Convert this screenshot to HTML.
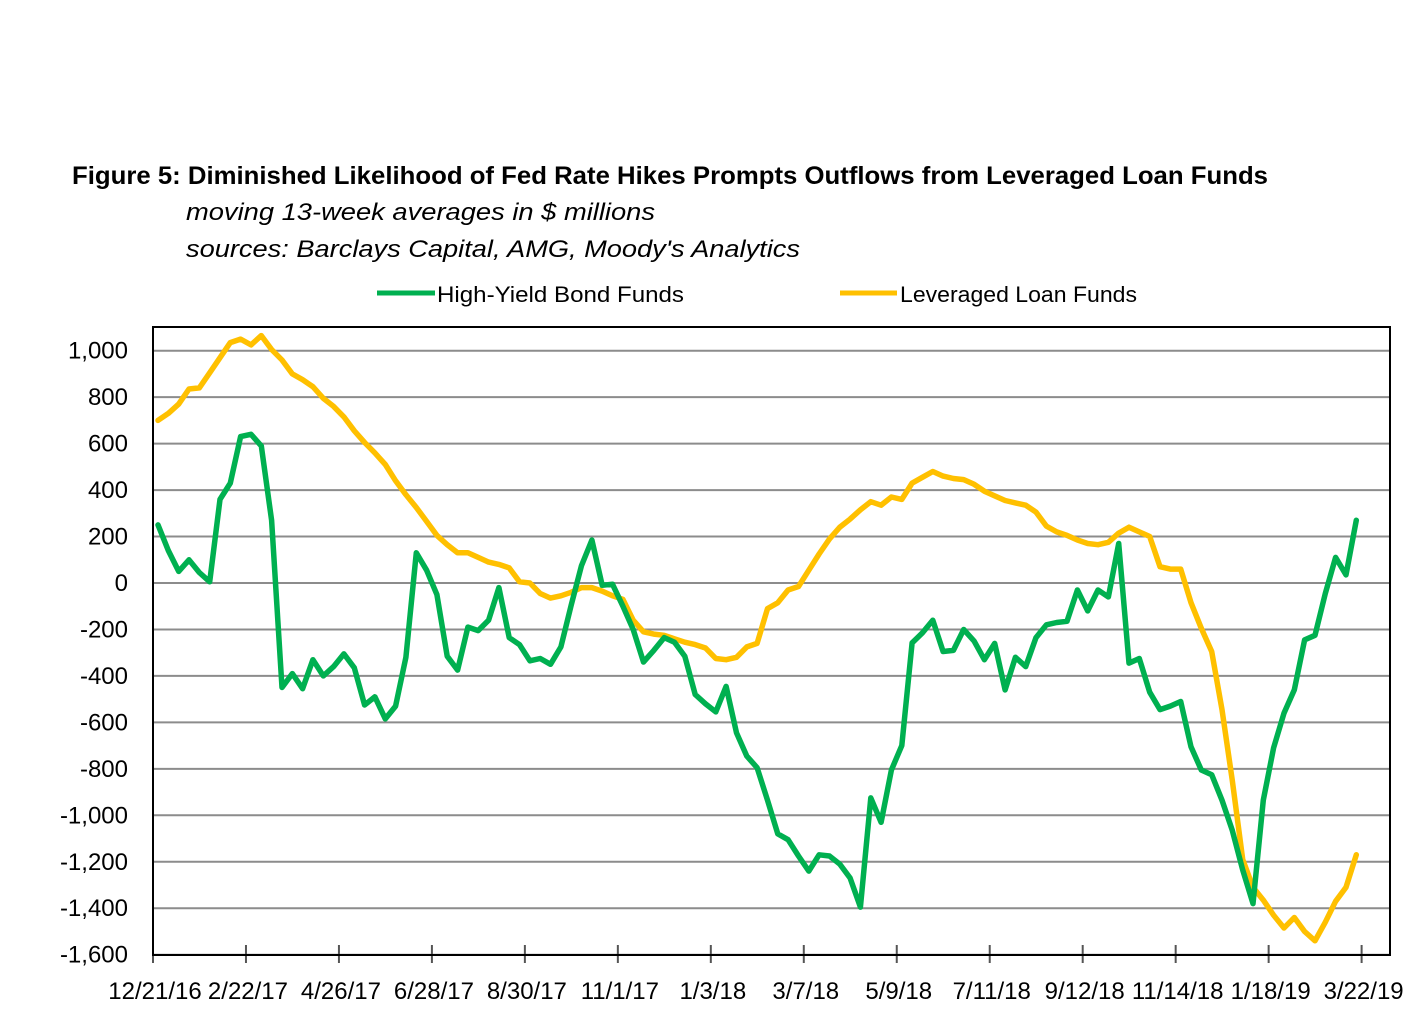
<!DOCTYPE html>
<html><head><meta charset="utf-8"><style>
html,body{margin:0;padding:0;background:#fff;}
svg{display:block;font-family:"Liberation Sans",sans-serif;}
</style></head><body>
<svg id="chart" width="1420" height="1024" viewBox="0 0 1420 1024">
<text x="72" y="184" font-size="25" font-weight="bold" textLength="1196" lengthAdjust="spacingAndGlyphs">Figure 5:  Diminished Likelihood of Fed Rate Hikes Prompts Outflows from Leveraged Loan Funds</text>
<text x="186" y="220" font-size="24" font-style="italic" textLength="469" lengthAdjust="spacingAndGlyphs">moving 13-week averages in $ millions</text>
<text x="186" y="257" font-size="24" font-style="italic" textLength="614" lengthAdjust="spacingAndGlyphs">sources: Barclays Capital, AMG, Moody's Analytics</text>
<g>
<line x1="377" y1="293" x2="435" y2="293" stroke="#00b050" stroke-width="5"/>
<text x="437" y="302" font-size="22" textLength="247" lengthAdjust="spacingAndGlyphs">High-Yield Bond Funds</text>
</g>
<g>
<line x1="840" y1="293" x2="897" y2="293" stroke="#ffc000" stroke-width="5"/>
<text x="900" y="302" font-size="22" textLength="237" lengthAdjust="spacingAndGlyphs">Leveraged Loan Funds</text>
</g>
<g id="grid"></g>
<g id="axes"></g>
<g id="series"></g>
<rect x="153" y="327" width="1237" height="628" fill="none" stroke="#000" stroke-width="2"/>
</svg>
<script>
const xLabels = ["12/21/16","2/22/17","4/26/17","6/28/17","8/30/17","11/1/17","1/3/18","3/7/18","5/9/18","7/11/18","9/12/18","11/14/18","1/18/19","3/22/19"];
const yTicks = [1000,800,600,400,200,0,-200,-400,-600,-800,-1000,-1200,-1400,-1600];
const highYield = [250,140,50,100,45,5,360,430,630,640,590,270,-450,-390,-455,-330,-400,-360,-305,-365,-525,-490,-585,-530,-320,130,55,-50,-315,-375,-190,-205,-160,-20,-235,-265,-335,-325,-350,-275,-95,75,185,-10,-5,-100,-200,-340,-290,-235,-255,-315,-480,-520,-555,-445,-645,-745,-795,-935,-1080,-1105,-1175,-1240,-1170,-1175,-1210,-1270,-1395,-925,-1030,-805,-700,-258,-215,-160,-295,-290,-200,-250,-330,-260,-460,-320,-360,-235,-180,-170,-165,-30,-120,-30,-60,170,-345,-325,-470,-545,-530,-510,-705,-805,-825,-935,-1065,-1235,-1380,-935,-710,-560,-460,-245,-225,-45,110,35,270];
const levLoan = [700,730,770,835,840,905,970,1035,1050,1025,1065,1005,960,900,875,845,795,760,715,655,605,560,510,440,380,325,265,205,165,130,130,110,90,80,65,5,0,-45,-65,-55,-40,-20,-20,-35,-55,-70,-160,-210,-220,-225,-240,-255,-265,-280,-325,-330,-320,-275,-260,-110,-85,-30,-15,55,125,190,240,275,315,350,335,370,360,430,455,480,460,450,445,425,395,375,355,345,335,305,245,220,205,185,170,165,175,215,240,220,200,70,60,60,-85,-195,-295,-545,-850,-1190,-1310,-1365,-1430,-1485,-1440,-1500,-1540,-1460,-1370,-1310,-1170];

const NS="http://www.w3.org/2000/svg";
const yScale = v => 583 - v*0.23231;
const xScale = i => 158 + i*10.33;
function mk(tag, attrs, parent){const e=document.createElementNS(NS,tag);for(const k in attrs)e.setAttribute(k,attrs[k]);parent.appendChild(e);return e;}
const grid=document.getElementById('grid'), axes=document.getElementById('axes'), series=document.getElementById('series');
yTicks.forEach(v=>{
  const y=yScale(v);
  const g=mk('line',{x1:153,x2:1390,y1:y,y2:y,stroke:'#8c8c8c','stroke-width':2},grid);
  
  
  const t=mk('text',{x:128,y:y+8,'font-size':24,'text-anchor':'end'},axes);
  t.textContent=v.toLocaleString('en-US');
  
  
});
xLabels.forEach((lab,k)=>{
  const x=xScale(k*9)-5;
  const tk=mk('line',{x1:x,x2:x,y1:945,y2:963,stroke:'#555','stroke-width':2},axes);
  
  
  const t=mk('text',{x:x+2,y:999,'font-size':24,'text-anchor':'middle'},axes);
  t.textContent=lab;
  
  
});
function drawLine(vals,color,name){
  const d=vals.map((v,i)=>(i?'L':'M')+xScale(i).toFixed(1)+','+yScale(v).toFixed(1)).join('');
  const p=mk('path',{d:d,fill:'none',stroke:color,'stroke-width':5.5,'stroke-linejoin':'round','stroke-linecap':'round'},series);
  
  
}
drawLine(levLoan,'#ffc000','leveraged-loan-line');
drawLine(highYield,'#00b050','high-yield-line');
</script>
</body></html>
